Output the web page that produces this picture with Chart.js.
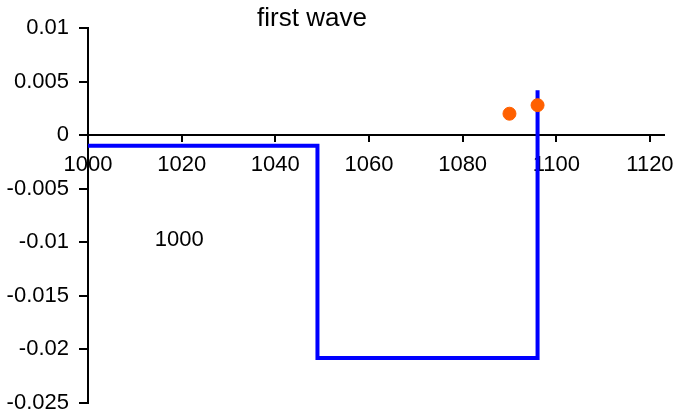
<!DOCTYPE html>
<html>
<head>
<meta charset="utf-8">
<script src="https://cdn.jsdelivr.net/npm/chart.js@4/dist/chart.umd.min.js"></script>
<style>
html,body{margin:0;padding:0;background:#fff;}
#wrap{width:680px;height:413px;position:relative;}
</style>
</head>
<body>
<div id="wrap"><canvas id="c" width="680" height="413"></canvas></div>
<script>
const titleText = "first wave";
const noteText = "1000";
const stepX = [1000, 1049, 1096];
const stepY = [-0.001, -0.0208, 0.0042];
const dotX = [1090, 1096];
const dotY = [0.002, 0.0028];
const xTicks = [1000, 1020, 1040, 1060, 1080, 1100, 1120];
const yTicks = [-0.025, -0.02, -0.015, -0.01, -0.005, 0, 0.005, 0.01];

const FONT = "'Liberation Sans', Arial, sans-serif";

const textPlugin = {
  id: 'texts',
  afterDraw(chart) {
    const ctx = chart.ctx;
    const xs = chart.scales.x, ys = chart.scales.y;
    ctx.save();
    ctx.fillStyle = '#000';
    ctx.textAlign = 'center';
    ctx.textBaseline = 'middle';
    ctx.font = '26px ' + FONT;
    ctx.fillText(titleText, 312, 19);
    ctx.font = '22px ' + FONT;
    ctx.fillText(noteText, xs.getPixelForValue(1019.5), ys.getPixelForValue(-0.0098));
    ctx.restore();
  }
};

new Chart(document.getElementById('c'), {
  type: 'scatter',
  data: {
    datasets: [
      {
        type: 'scatter',
        data: dotX.map((x, i) => ({x: x, y: dotY[i]})),
        backgroundColor: '#FF6000',
        borderColor: '#FF6000',
        pointRadius: 6.5,
        pointBorderWidth: 1,
        pointHoverRadius: 6.5,
        order: 0
      },
      {
        type: 'line',
        data: stepX.map((x, i) => ({x: x, y: stepY[i]})),
        stepped: 'before',
        borderColor: '#0000FF',
        borderWidth: 4,
        pointRadius: 0,
        fill: false,
        clip: false,
        borderJoinStyle: 'miter',
        borderCapStyle: 'butt',
        order: 1
      }
    ]
  },
  options: {
    responsive: false,
    animation: false,
    layout: {padding: {left: 0, right: 16, top: 28, bottom: 10}},
    plugins: {legend: {display: false}, tooltip: {enabled: false}, title: {display: false}},
    scales: {
      x: {
        type: 'linear',
        position: {y: 0},
        min: 1000,
        max: 1123,
        afterBuildTicks(s) { s.ticks = xTicks.map(v => ({value: v})); },
        afterFit(s) { s.paddingLeft = 0; s.paddingRight = 0; },
        ticks: {
          color: '#000',
          font: {family: FONT, size: 22},
          padding: 11,
          maxRotation: 0,
          autoSkip: false,
          callback: v => String(v)
        },
        grid: {display: true, drawOnChartArea: false, drawTicks: true, tickLength: 6, color: '#000', lineWidth: 2},
        border: {display: true, color: '#000', width: 2}
      },
      y: {
        type: 'linear',
        min: -0.025,
        max: 0.01,
        afterBuildTicks(s) { s.ticks = yTicks.map(v => ({value: v})); },
        afterFit(s) { s.width = 88; s.paddingTop = 0; s.paddingBottom = 0; },
        ticks: {
          color: '#000',
          font: {family: FONT, size: 22},
          padding: 10,
          autoSkip: false,
          callback: v => String(Number(v.toFixed(4)))
        },
        grid: {display: true, drawOnChartArea: false, drawTicks: true, tickLength: 9, color: '#000', lineWidth: 2},
        border: {display: true, color: '#000', width: 2}
      }
    }
  },
  plugins: [textPlugin]
});
</script>
</body>
</html>
